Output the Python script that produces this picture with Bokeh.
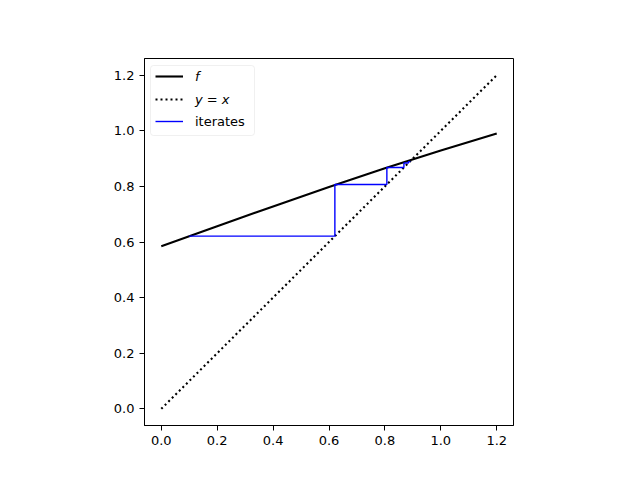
from bokeh.plotting import figure
from bokeh.models import (Range1d, FixedTicker, PrintfTickFormatter, Legend,
                          LegendItem, BoxAnnotation)
from bokeh.embed import file_html
from bokeh.resources import INLINE

# --- data ---
f_x = [0.0, 0.2, 0.4, 0.6, 0.8, 1.0, 1.2]
f_y = [0.585, 0.657, 0.728, 0.798, 0.865, 0.929, 0.990]
diag_x = [0.0, 1.2]
diag_y = [0.0, 1.2]
iterates = [0.1, 0.621, 0.807, 0.868, 0.884, 0.889, 0.891]
ticks = [0.0, 0.2, 0.4, 0.6, 0.8, 1.0, 1.2]

# cobweb path built from the iterates
web_x = [iterates[0]]
web_y = [iterates[1]]
for k in range(1, len(iterates) - 1):
    web_x += [iterates[k], iterates[k]]
    web_y += [iterates[k], iterates[k + 1]]

X0, X1 = -0.06, 1.26
Y0, Y1 = -0.06, 1.26
FW, FH = 369, 367
BL, BR, BT, BB = 144, 111, 58, 39

p = figure(frame_width=FW, frame_height=FH,
           min_border_left=BL, min_border_right=BR,
           min_border_top=BT, min_border_bottom=BB,
           x_range=Range1d(X0, X1), y_range=Range1d(Y0, Y1),
           output_backend="svg", toolbar_location=None,
           background_fill_color="white", border_fill_color="white")

p.grid.visible = False
p.outline_line_color = "black"
p.outline_line_width = 1
p.outline_line_alpha = 1

for ax in (p.xaxis[0], p.yaxis[0]):
    ax.ticker = FixedTicker(ticks=ticks, minor_ticks=[])
    ax.formatter = PrintfTickFormatter(format="%.1f")
    ax.major_tick_out = 5
    ax.major_tick_in = 0
    ax.minor_tick_out = 0
    ax.minor_tick_in = 0
    ax.major_tick_line_color = "black"
    ax.axis_line_color = "black"
    ax.major_label_text_font = "DejaVu Sans"
    ax.major_label_text_font_size = "13px"
    ax.major_label_text_color = "black"
    ax.major_label_standoff = 5

r_f = p.line(f_x, f_y, line_color="black", line_width=2.1)
r_d = p.line(diag_x, diag_y, line_color="black", line_width=2.1,
             line_dash="2 3")
r_w = p.line(web_x, web_y, line_color="blue", line_width=1.4)

# legend frame (pixel offsets converted to data units)
def px2x(px):
    return X0 + px * (X1 - X0) / FW

def py2y(py):
    return Y1 - py * (Y1 - Y0) / FH

frame_box = BoxAnnotation(left=px2x(6), right=px2x(110),
                          top=py2y(7), bottom=py2y(77),
                          fill_color="white", fill_alpha=0.8,
                          line_color="#cccccc", line_width=1,
                          border_radius=3)
p.add_layout(frame_box)

common = dict(padding=0, margin=0, spacing=3, glyph_width=28,
              glyph_height=20, label_height=20, label_standoff=12,
              label_text_font="DejaVu Sans", label_text_font_size="13px",
              label_text_color="black",
              background_fill_alpha=0, border_line_alpha=0)

leg_a = Legend(items=[LegendItem(label="f", renderers=[r_f]),
                      LegendItem(label="y = x", renderers=[r_d])],
               location=(11, FH - 51), label_text_font_style="italic",
               **common)
leg_b = Legend(items=[LegendItem(label="iterates", renderers=[r_w])],
               location=(11, FH - 73), **common)
p.add_layout(leg_a)
p.add_layout(leg_b)

open("out.html", "w").write(file_html(p, INLINE))
